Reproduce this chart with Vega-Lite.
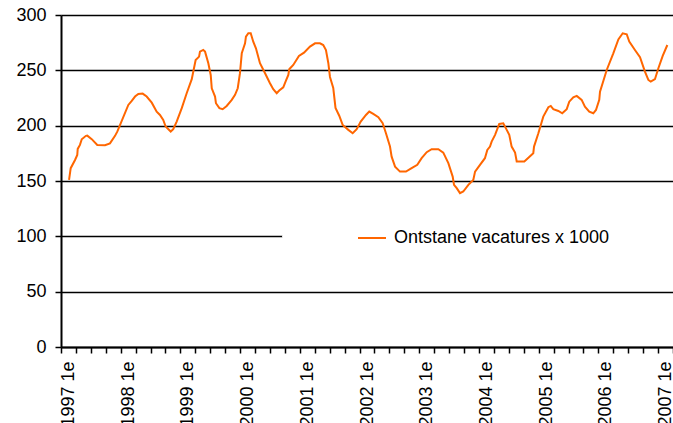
{
  "$schema": "https://vega.github.io/schema/vega-lite/v6.json",
  "autosize": "none",
  "width": 612,
  "height": 332,
  "padding": {"left": 61, "top": 15, "right": 0, "bottom": 76},
  "background": "white",
  "config": {
    "view": {"stroke": null},
    "font": "Liberation Sans",
    "axis": {
      "labelFont": "Liberation Sans",
      "labelFontSize": 18,
      "labelColor": "#000000",
      "domainColor": "#000000",
      "domainWidth": 2,
      "tickColor": "#000000",
      "tickWidth": 1.5,
      "tickSize": 6,
      "gridColor": "#000000",
      "gridWidth": 1.5,
      "gridOpacity": 1,
      "title": null
    }
  },
  "data": {
    "values": [
      {"t": 0.04, "v": 151}, {"t": 0.15, "v": 161.6}, {"t": 0.44, "v": 169}, {"t": 0.59, "v": 173.6},
      {"t": 0.62, "v": 179}, {"t": 0.77, "v": 182.6}, {"t": 0.89, "v": 187.7}, {"t": 1.17, "v": 190.8},
      {"t": 1.26, "v": 191}, {"t": 1.56, "v": 187.8}, {"t": 1.93, "v": 182.6}, {"t": 2.45, "v": 182.3},
      {"t": 2.78, "v": 184}, {"t": 3.12, "v": 190.8}, {"t": 3.27, "v": 194.6}, {"t": 3.5, "v": 202},
      {"t": 4.01, "v": 218.7}, {"t": 4.24, "v": 222.4}, {"t": 4.46, "v": 226.3}, {"t": 4.68, "v": 228.7},
      {"t": 4.97, "v": 229}, {"t": 5.24, "v": 226.3}, {"t": 5.58, "v": 220.8}, {"t": 5.91, "v": 212.7},
      {"t": 6.13, "v": 209.7}, {"t": 6.35, "v": 205.2}, {"t": 6.51, "v": 199.2}, {"t": 6.85, "v": 194.7},
      {"t": 7.02, "v": 196.8}, {"t": 7.25, "v": 203.7}, {"t": 7.59, "v": 215.8}, {"t": 7.92, "v": 229.3},
      {"t": 8.26, "v": 242}, {"t": 8.52, "v": 259.4}, {"t": 8.75, "v": 262.4}, {"t": 8.81, "v": 266.9},
      {"t": 9.03, "v": 268.4}, {"t": 9.15, "v": 266.9}, {"t": 9.37, "v": 256.4}, {"t": 9.53, "v": 245.8},
      {"t": 9.6, "v": 233.8}, {"t": 9.82, "v": 226.3}, {"t": 9.88, "v": 220.3}, {"t": 10.11, "v": 215.8},
      {"t": 10.33, "v": 214.9}, {"t": 10.6, "v": 217.8}, {"t": 10.94, "v": 223.3}, {"t": 11.16, "v": 227.8},
      {"t": 11.34, "v": 233.8}, {"t": 11.49, "v": 247.4}, {"t": 11.61, "v": 265.4}, {"t": 11.83, "v": 274.4},
      {"t": 11.89, "v": 280.4}, {"t": 12.05, "v": 283.5}, {"t": 12.21, "v": 283.5}, {"t": 12.38, "v": 275.9},
      {"t": 12.56, "v": 269.9}, {"t": 12.83, "v": 256.4}, {"t": 13.17, "v": 247.4}, {"t": 13.5, "v": 238.3},
      {"t": 13.72, "v": 232.9}, {"t": 13.95, "v": 229.3}, {"t": 14.12, "v": 231.7}, {"t": 14.39, "v": 234.7},
      {"t": 14.57, "v": 240.7}, {"t": 14.73, "v": 245.8}, {"t": 14.79, "v": 251}, {"t": 15.06, "v": 254.9},
      {"t": 15.44, "v": 263}, {"t": 15.78, "v": 266}, {"t": 16.18, "v": 271.4}, {"t": 16.52, "v": 274.4},
      {"t": 16.85, "v": 274.4}, {"t": 17.07, "v": 272.9}, {"t": 17.25, "v": 268.4}, {"t": 17.41, "v": 256.4},
      {"t": 17.52, "v": 244}, {"t": 17.74, "v": 234}, {"t": 17.89, "v": 216}, {"t": 18.14, "v": 209},
      {"t": 18.37, "v": 200.7}, {"t": 18.75, "v": 196.2}, {"t": 19.04, "v": 193.2}, {"t": 19.31, "v": 196.8},
      {"t": 19.58, "v": 203.7}, {"t": 19.93, "v": 209.7}, {"t": 20.15, "v": 212.7}, {"t": 20.42, "v": 210.6},
      {"t": 20.76, "v": 207.6}, {"t": 21.05, "v": 202.2}, {"t": 21.27, "v": 193.2}, {"t": 21.54, "v": 181.1},
      {"t": 21.65, "v": 172}, {"t": 21.88, "v": 163}, {"t": 22.21, "v": 158.5}, {"t": 22.61, "v": 158.5},
      {"t": 22.99, "v": 161.6}, {"t": 23.37, "v": 164.6}, {"t": 23.66, "v": 170.6}, {"t": 24.0, "v": 176},
      {"t": 24.33, "v": 178.7}, {"t": 24.78, "v": 178.7}, {"t": 25.11, "v": 175.7}, {"t": 25.45, "v": 166.1},
      {"t": 25.74, "v": 154}, {"t": 25.83, "v": 146.5}, {"t": 26.01, "v": 143.5}, {"t": 26.23, "v": 139},
      {"t": 26.45, "v": 140.5}, {"t": 26.79, "v": 146.5}, {"t": 27.12, "v": 151}, {"t": 27.24, "v": 158.5},
      {"t": 27.57, "v": 164.6}, {"t": 27.9, "v": 170.6}, {"t": 28.06, "v": 178.1}, {"t": 28.24, "v": 181.1},
      {"t": 28.35, "v": 185.6}, {"t": 28.58, "v": 191.7}, {"t": 28.86, "v": 201.6}, {"t": 29.13, "v": 202.2},
      {"t": 29.36, "v": 196.2}, {"t": 29.53, "v": 191.7}, {"t": 29.69, "v": 181.1}, {"t": 29.92, "v": 175.7},
      {"t": 30.03, "v": 167.6}, {"t": 30.54, "v": 167.6}, {"t": 30.85, "v": 171.5}, {"t": 31.14, "v": 175.1},
      {"t": 31.19, "v": 181.1}, {"t": 31.48, "v": 193.2}, {"t": 31.81, "v": 208.2}, {"t": 32.15, "v": 216.7},
      {"t": 32.31, "v": 217.8}, {"t": 32.48, "v": 214.9}, {"t": 32.82, "v": 213.3}, {"t": 33.08, "v": 211.2},
      {"t": 33.38, "v": 214.9}, {"t": 33.55, "v": 221.7}, {"t": 33.82, "v": 225.7}, {"t": 34.05, "v": 226.9},
      {"t": 34.38, "v": 223.3}, {"t": 34.6, "v": 217.2}, {"t": 34.89, "v": 212.7}, {"t": 35.16, "v": 211.2},
      {"t": 35.34, "v": 214.2}, {"t": 35.56, "v": 223.3}, {"t": 35.61, "v": 230.7}, {"t": 36.06, "v": 250.3},
      {"t": 36.5, "v": 265.4}, {"t": 36.84, "v": 278}, {"t": 37.13, "v": 283.5}, {"t": 37.4, "v": 282.6},
      {"t": 37.57, "v": 275.9}, {"t": 37.95, "v": 268.4}, {"t": 38.29, "v": 261.8}, {"t": 38.62, "v": 248.8},
      {"t": 38.85, "v": 241.3}, {"t": 39.01, "v": 239.8}, {"t": 39.29, "v": 242}, {"t": 39.52, "v": 251.9},
      {"t": 39.81, "v": 263}, {"t": 40.12, "v": 272.9}
    ]
  },
  "encoding": {
    "x": {
      "field": "t",
      "type": "quantitative",
      "scale": {"domain": [-0.5, 40.5], "nice": false, "zero": false},
      "axis": {
        "values": [-0.5, 0.5, 1.5, 2.5, 3.5, 4.5, 5.5, 6.5, 7.5, 8.5, 9.5, 10.5, 11.5, 12.5, 13.5, 14.5, 15.5, 16.5, 17.5, 18.5, 19.5, 20.5, 21.5, 22.5, 23.5, 24.5, 25.5, 26.5, 27.5, 28.5, 29.5, 30.5, 31.5, 32.5, 33.5, 34.5, 35.5, 36.5, 37.5, 38.5, 39.5, 40.5],
        "labelExpr": "(datum.value + 0.5) % 4 == 0 && datum.value < 40 ? (1997 + (datum.value + 0.5) / 4) + ' 1e' : ''",
        "labelAngle": 270,
        "labelOffset": 7.5,
        "labelPadding": 8,
        "labelOverlap": false,
        "labelFlush": false,
        "labelBound": false,
        "grid": false
      }
    },
    "y": {
      "field": "v",
      "type": "quantitative",
      "scale": {"domain": [0, 300], "nice": false},
      "axis": {
        "values": [0, 50, 100, 150, 200, 250, 300],
        "grid": true,
        "labelPadding": 9
      }
    }
  },
  "layer": [
    {
      "mark": {"type": "rect", "fill": "white"},
      "encoding": {
        "x": {"datum": 14.37, "type": "quantitative"},
        "x2": {"datum": 40.5},
        "y": {"datum": 85, "type": "quantitative"},
        "y2": {"datum": 115}
      }
    },
    {
      "mark": {"type": "line", "strokeWidth": 2, "interpolate": "linear"},
      "encoding": {
        "color": {
          "datum": "Ontstane vacatures x 1000",
          "type": "nominal",
          "scale": {"range": ["#ff6600"]},
          "legend": {
            "orient": "none",
            "legendX": 296,
            "legendY": 208,
            "title": null,
            "padding": 0,
            "symbolType": "stroke",
            "symbolSize": 784,
            "symbolStrokeWidth": 2,
            "labelFont": "Liberation Sans",
            "labelFontSize": 18,
            "labelColor": "#000000",
            "labelOffset": 7,
            "labelLimit": 400
          }
        }
      }
    }
  ]
}
